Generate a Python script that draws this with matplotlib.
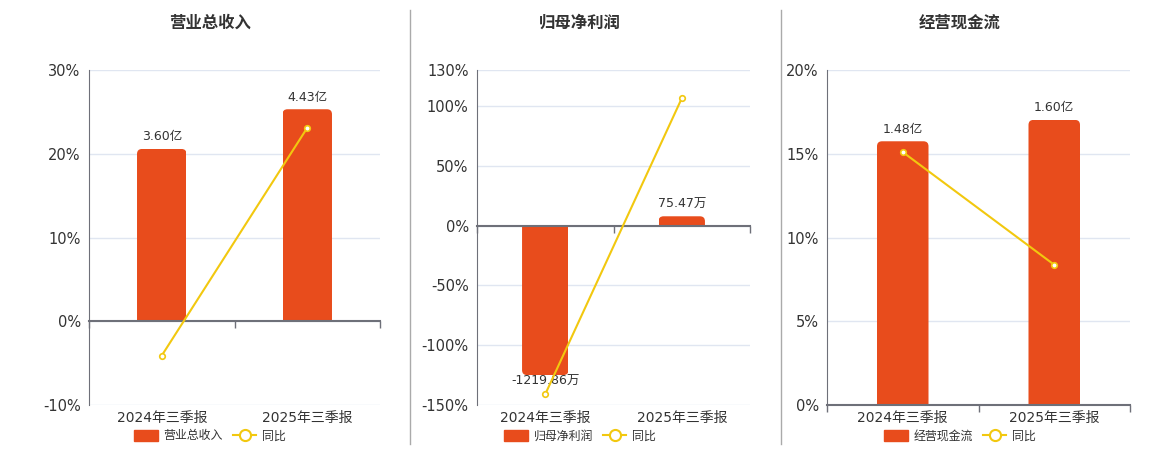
import numpy as np
import matplotlib.pyplot as plt
from matplotlib.patches import Patch, FancyBboxPatch
from matplotlib.lines import Line2D

plt.rcParams['font.family'] = ['DejaVu Sans', 'Noto Sans CJK SC']

# Datos
periodos = ["2024年三季报", "2025年三季报"]
titulos = ["营业总收入", "归母净利润", "经营现金流"]

ingresos = [3.60, 4.43]          # 亿
ingresos_yoy = [-4.1, 23.1]      # %
beneficio = [-1219.86, 75.47]    # 万
beneficio_yoy = [-141.0, 106.3]
flujo = [1.48, 1.60]             # 亿
flujo_yoy = [15.1, 8.37]

unidades = ["亿", "万", "亿"]
valores = [ingresos, beneficio, flujo]
yoys = [ingresos_yoy, beneficio_yoy, flujo_yoy]

# ticks del eje de porcentaje
ticks_pct = [[-10, 0, 10, 20, 30],
             [-150, -100, -50, 0, 50, 100, 130],
             [0, 5, 10, 15, 20]]
# unidades de barra por 1% (escala del eje oculto)
escala = [0.175, 9.76, 0.094]

C_BAR = '#E84C1C'
C_LINE = '#F2C80F'
C_AXIS = '#6E7079'
C_GRID = '#E0E6F1'
C_TEXT = '#333333'

W, H = 1160, 450
fig = plt.figure(figsize=(11.6, 4.5), dpi=100)

# posiciones en pixeles: (izquierda, derecha)
cajas = [(89, 380), (477, 750), (827, 1130)]
centros = [210, 580, 960]
top_px, bot_px = 70, 405
radio_px = 5

for i in range(3):
    l, r = cajas[i]
    rect = [l / W, 1 - bot_px / H, (r - l) / W, (bot_px - top_px) / H]
    ax = fig.add_axes(rect)
    ax_bar = ax.twinx()
    ax_line = ax.twinx()

    lo, hi = ticks_pct[i][0], ticks_pct[i][-1]
    x = np.arange(len(periodos))

    # eje de porcentajes (fondo con rejilla)
    ax.set_ylim(lo, hi)
    ax.set_xlim(-0.5, 1.5)
    ax.set_yticks(ticks_pct[i])
    ax.set_yticklabels([f"{t}%" for t in ticks_pct[i]])
    ax.yaxis.grid(True, color=C_GRID, lw=1)
    ax.set_axisbelow(True)
    ax.tick_params(axis='y', length=0, pad=6, labelsize=10.5, labelcolor=C_TEXT)
    ax.set_xticks(x)
    ax.set_xticklabels(periodos)
    ax.tick_params(axis='x', length=0, pad=4, labelsize=10, labelcolor=C_TEXT)
    for s in ['top', 'right', 'bottom']:
        ax.spines[s].set_visible(False)
    ax.spines['left'].set_color(C_AXIS)

    # barras (esquinas redondeadas en el extremo)
    ax_bar.set_xlim(-0.5, 1.5)
    ylo, yhi = lo * escala[i], hi * escala[i]
    ax_bar.set_ylim(ylo, yhi)
    bars = ax_bar.bar(x, valores[i], width=0.34, color=C_BAR, zorder=2)
    x_por_px = 2.0 / (r - l)
    y_por_px = (yhi - ylo) / (bot_px - top_px)
    rr = radio_px * x_por_px
    asp = y_por_px / x_por_px
    for b, v in zip(bars, valores[i]):
        b.set_visible(False)
        ext = radio_px * y_por_px
        y0 = -ext if v >= 0 else v
        alto = abs(v) + ext
        fb = FancyBboxPatch((b.get_x(), y0), b.get_width(), alto,
                            boxstyle=f"round,pad=0,rounding_size={rr}",
                            mutation_aspect=asp, facecolor=C_BAR, edgecolor='none',
                            zorder=2)
        ax_bar.add_patch(fb)
        fb.set_clip_path(b)
        txt = f"{v:.2f}{unidades[i]}"
        if v >= 0:
            ax_bar.annotate(txt, (b.get_x() + b.get_width() / 2, v), xytext=(0, 4),
                            textcoords='offset points', ha='center', va='bottom',
                            fontsize=9, color=C_TEXT)
        else:
            ax_bar.annotate(txt, (b.get_x() + b.get_width() / 2, v), xytext=(0, 0),
                            textcoords='offset points', ha='center', va='top',
                            fontsize=9, color=C_TEXT)
    ax_bar.axis('off')

    # linea de variacion
    ax_line.set_ylim(lo, hi)
    ax_line.plot(x, yoys[i], color=C_LINE, lw=1.5, marker='o', markersize=4,
                 markerfacecolor='white', markeredgecolor=C_LINE, markeredgewidth=1.2)
    ax_line.set_xlim(-0.5, 1.5)
    ax_line.set_yticks([])
    for s in ax_line.spines.values():
        s.set_visible(False)

    # eje x en cero
    pos0 = (0 - lo) / (hi - lo)
    sec = ax_line.secondary_xaxis(pos0)
    sec.set_alignment('bottom')
    sec.set_xticks([-0.5, 0.5, 1.5])
    sec.set_xticklabels([])
    sec.tick_params(length=5, color=C_AXIS, width=1, direction='out')
    sec.spines['bottom'].set_color(C_AXIS)
    sec.spines['bottom'].set_linewidth(1.5)

    # titulo
    fig.text(centros[i] / W, 1 - 23 / H, titulos[i], ha='center', va='center',
             fontsize=11.8, fontweight='bold', color=C_TEXT)

    # leyenda
    handles = [Patch(facecolor=C_BAR, edgecolor=C_BAR, label=titulos[i]),
               Line2D([0], [0], color=C_LINE, lw=1.5, marker='o', markersize=8,
                      markerfacecolor='white', markeredgecolor=C_LINE,
                      markeredgewidth=1.5, label="同比")]
    fig.legend(handles=handles, loc='center', bbox_to_anchor=(centros[i] / W, 1 - 436 / H),
               ncol=2, frameon=False, fontsize=8.6, handlelength=2.0, handleheight=1.1,
               columnspacing=0.8, handletextpad=0.45, labelcolor=C_TEXT)

# separadores verticales
for xp in [410, 781]:
    fig.add_artist(Line2D([xp / W, xp / W], [1 - 10 / H, 1 - 444 / H],
                          color='#AAAAAA', lw=1))

plt.savefig('out.png', dpi=100)
